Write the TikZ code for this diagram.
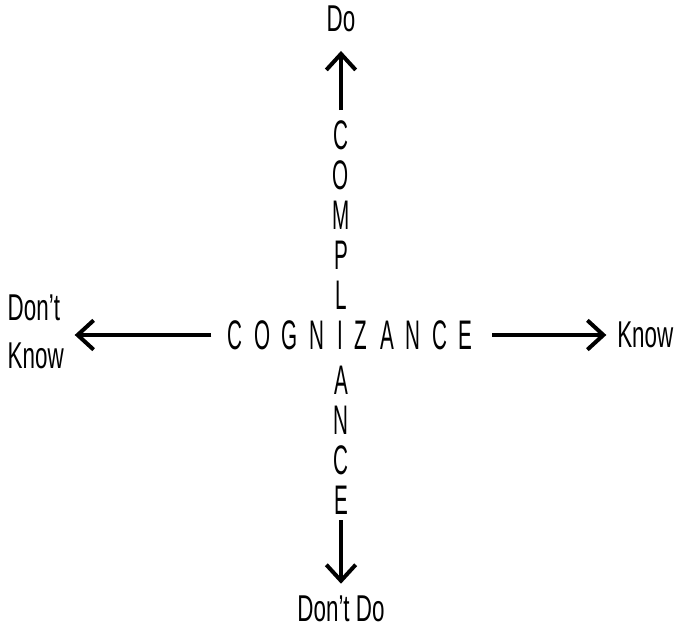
\documentclass[tikz,border=0pt]{standalone}
\usepackage{fontspec}
\setmainfont{Liberation Sans}
\usepackage{graphicx}
\usetikzlibrary{arrows.meta}

\newcommand{\slim}[1]{\scalebox{0.5}[1]{#1}}
\newcommand{\slimtext}[1]{\scalebox{0.6}[1]{#1}}

\begin{document}
\begin{tikzpicture}[
    x=0.75pt, y=-0.75pt,
    bigletter/.style={inner sep=0pt, font=\fontsize{31}{34}\selectfont},
    endtext/.style={inner sep=0pt, font=\fontsize{28}{36}\selectfont},
    axis/.style={-{Straight Barb[length=12pt,width=22pt]}, line width=3pt}
]
\useasboundingbox (0,0) rectangle (679,629);

% Shared letter at the crossing
\node[bigletter] (mid) at (340,335) {\slim{I}};

% COGNIZANCE (horizontal)
\node[bigletter] (hC) at (235,335) {\slim{C}};
\node[bigletter] (hO) at (263,335) {\slim{O}};
\node[bigletter] (hG) at (290,335) {\slim{G}};
\node[bigletter] (hN) at (317,335) {\slim{N}};
\node[bigletter] (hZ) at (361,335) {\slim{Z}};
\node[bigletter] (hA) at (387,335) {\slim{A}};
\node[bigletter] (hN2) at (413,335) {\slim{N}};
\node[bigletter] (hC2) at (440,335) {\slim{C}};
\node[bigletter] (hE) at (465,335) {\slim{E}};

% COMPLIANCE (vertical)
\node[bigletter] (vC) at (341,135) {\slim{C}};
\node[bigletter] (vO) at (341,175) {\slim{O}};
\node[bigletter] (vM) at (341,215) {\slim{M}};
\node[bigletter] (vP) at (341,255) {\slim{P}};
\node[bigletter] (vL) at (341,295) {\slim{L}};
\node[bigletter] (vA) at (341,380) {\slim{A}};
\node[bigletter] (vN) at (341,420) {\slim{N}};
\node[bigletter] (vC2) at (341,460) {\slim{C}};
\node[bigletter] (vE) at (341,500) {\slim{E}};

% End labels
\node[endtext] (do) at (341,19) {\slimtext{Do}};
\node[endtext] (dontdo) at (341,609) {\slimtext{Don't Do}};
\node[endtext, anchor=west] (know) at (617,335) {\slimtext{Know}};
\node[endtext, anchor=east] (dontknow) at (64,335) {\slimtext{\begin{tabular}{@{}l@{}}Don't\\Know\end{tabular}}};

% Axes
\draw[axis, shorten <=7.5pt, shorten >=14pt] (vC) -- (do);
\draw[axis, shorten <=4.5pt, shorten >=9pt] (vE) -- (dontdo);
\draw[axis, shorten <=12pt, shorten >=8pt] (hC) -- (dontknow);
\draw[axis, shorten <=15pt, shorten >=8pt] (hE) -- (know);

\end{tikzpicture}
\end{document}
